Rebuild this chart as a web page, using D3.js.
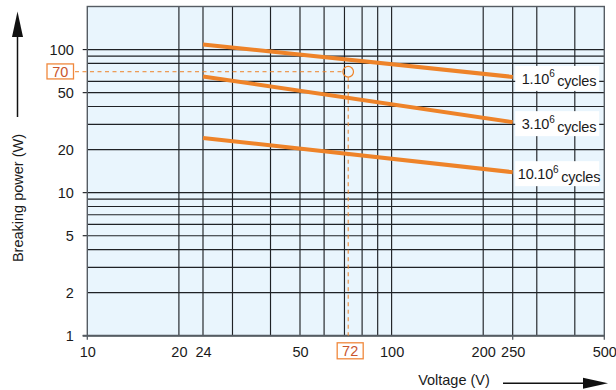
<!DOCTYPE html>
<html><head><meta charset="utf-8">
<script src="https://cdn.jsdelivr.net/npm/d3@7"></script>
<style>
html,body{margin:0;padding:0;background:#fff;}
svg{display:block;font-family:"Liberation Sans",Arial,Helvetica,sans-serif;}
</style></head>
<body><svg id="c" width="616" height="390"></svg>
<script>
// ---- data ----
const voltage = [24, 250];
const cycles1e6 = [108.5, 64.4];
const cycles3e6 = [64.9, 31.1];
const cycles10e6 = [24.1, 13.9];
const seriesNames = ["1.10", "3.10", "10.10"];
const xTickLabels = [10, 20, 24, 50, 100, 200, 250, 500];
const yTickLabels = [1, 2, 5, 10, 20, 50, 100];
const xGridValues = [20, 24, 30, 40, 50, 60, 70, 80, 90, 100, 200, 250, 300, 400];
const yGridValues = [2, 3, 4, 5, 6, 7, 8, 9, 10, 20, 30, 40, 50, 60, 80, 90, 100];
const yTickMarks = [1, 5, 10, 50, 100];
const xTickMarks = [10, 250, 500];
const markVoltage = 72;
const markPower = 70;

// ---- layout ----
const W = 616, H = 390;
const m = {left: 87.3, right: 11.7, top: 6.5, bottom: 54.3};
const svg = d3.select("#c");
const x = d3.scaleLog().domain([10, 500]).range([m.left, W - m.right]);
const y = d3.scaleLog().domain([1, 200]).range([H - m.bottom, m.top]);
const orange = "#ee8329";
const boxOrange = "#f0883c";
const textOrange = "#c8552c";
const gridCol = "#1f2226";
const frameCol = "#555c63";

// background
svg.append("rect").attr("x", x(10)).attr("y", y(200))
  .attr("width", x(500) - x(10)).attr("height", y(1) - y(200))
  .attr("fill", "#e9f5fd");

// grid
svg.append("g").selectAll("line").data(xGridValues).join("line")
  .attr("x1", d => x(d)).attr("x2", d => x(d))
  .attr("y1", y(200)).attr("y2", y(1))
  .attr("stroke", gridCol).attr("stroke-width", 1.15);
svg.append("g").selectAll("line").data(yGridValues).join("line")
  .attr("x1", x(10)).attr("x2", x(500))
  .attr("y1", d => y(d)).attr("y2", d => y(d))
  .attr("stroke", gridCol).attr("stroke-width", 1.15);

// tick extensions
svg.append("g").selectAll("line").data(yTickMarks).join("line")
  .attr("x1", x(10) - 4.6).attr("x2", x(10))
  .attr("y1", d => y(d)).attr("y2", d => y(d))
  .attr("stroke", gridCol).attr("stroke-width", 1.15);
svg.append("g").selectAll("line").data(xTickMarks).join("line")
  .attr("x1", d => x(d)).attr("x2", d => x(d))
  .attr("y1", y(1)).attr("y2", y(1) + 4)
  .attr("stroke", frameCol).attr("stroke-width", 1.3);

// frame
svg.append("rect").attr("x", x(10)).attr("y", y(200))
  .attr("width", x(500) - x(10)).attr("height", y(1) - y(200))
  .attr("fill", "none").attr("stroke", frameCol).attr("stroke-width", 1.4);
svg.append("line").attr("x1", x(10) - 4.6).attr("x2", x(500))
  .attr("y1", y(1)).attr("y2", y(1)).attr("stroke", frameCol).attr("stroke-width", 2);

// series lines
const line = d3.line().x(d => x(d[0])).y(d => y(d[1]));
const seriesVals = [cycles1e6, cycles3e6, cycles10e6];
seriesVals.forEach(vals => {
  svg.append("path").datum(voltage.map((v, i) => [v, vals[i]]))
    .attr("d", line).attr("fill", "none")
    .attr("stroke", orange).attr("stroke-width", 4);
});

// series labels
seriesVals.forEach((vals, i) => {
  const cy = y(vals[vals.length - 1]) + 1.5;
  svg.append("rect").attr("x", x(250) + 2.5).attr("y", cy - 12.5)
    .attr("width", 84).attr("height", 25).attr("fill", "#fff");
  const t = svg.append("text").attr("x", 559).attr("y", cy)
    .attr("dy", "0.36em").attr("text-anchor", "middle")
    .attr("font-size", 14.5).attr("fill", "#1a1a1a").attr("letter-spacing", -0.2);
  t.append("tspan").text(seriesNames[i]);
  t.append("tspan").attr("font-size", 10).attr("dy", "-0.62em").text("6");
  t.append("tspan").attr("dy", "0.62em").text("\u2009cycles");
});

// axes labels
const yAxis = d3.axisLeft(y).tickValues(yTickLabels).tickFormat(d3.format("d"))
  .tickSize(0).tickPadding(13.5);
const gy = svg.append("g").attr("transform", `translate(${x(10)},0)`).call(yAxis);
gy.select(".domain").remove();
gy.selectAll("text").attr("font-size", 14.5).attr("fill", "#1a1a1a")
  .attr("font-family", "Liberation Sans, Arial, sans-serif");

const xAxis = d3.axisBottom(x).tickValues(xTickLabels).tickFormat(d3.format("d"))
  .tickSize(0).tickPadding(11);
const gx = svg.append("g").attr("transform", `translate(0,${y(1)})`).call(xAxis);
gx.select(".domain").remove();
gx.selectAll("text").attr("font-size", 14.5).attr("fill", "#1a1a1a")
  .attr("font-family", "Liberation Sans, Arial, sans-serif");

// marker
const dash = "4,3.5";
svg.append("line").attr("x1", 75).attr("x2", x(markVoltage) - 5.5)
  .attr("y1", y(markPower)).attr("y2", y(markPower))
  .attr("stroke", orange).attr("stroke-width", 1).attr("stroke-dasharray", dash);
svg.append("line").attr("x1", x(markVoltage)).attr("x2", x(markVoltage))
  .attr("y1", y(markPower) + 5.5).attr("y2", y(1))
  .attr("stroke", orange).attr("stroke-width", 1).attr("stroke-dasharray", dash);
svg.append("circle").attr("cx", x(markVoltage)).attr("cy", y(markPower)).attr("r", 5.3)
  .attr("fill", "none").attr("stroke", orange).attr("stroke-width", 1.2);

// boxed labels
svg.append("rect").attr("x", 47).attr("y", y(markPower) - 7.8).attr("width", 26.5).attr("height", 15)
  .attr("fill", "#fff").attr("stroke", boxOrange).attr("stroke-width", 1.3);
svg.append("text").attr("x", 60.2).attr("y", y(markPower)).attr("dy", "0.36em")
  .attr("text-anchor", "middle").attr("font-size", 14.5).attr("fill", textOrange).text(markPower);
svg.append("rect").attr("x", x(markVoltage) - 11).attr("y", 342.8).attr("width", 26).attr("height", 16)
  .attr("fill", "#fff").attr("stroke", boxOrange).attr("stroke-width", 1.3);
svg.append("text").attr("x", x(markVoltage) + 2).attr("y", 351).attr("dy", "0.36em")
  .attr("text-anchor", "middle").attr("font-size", 14.5).attr("fill", textOrange).text(markVoltage);

// axis titles
svg.append("text").attr("transform", "translate(23,198) rotate(-90)")
  .attr("text-anchor", "middle").attr("font-size", 14.5).attr("fill", "#1a1a1a")
  .text("Breaking power (W)");
svg.append("line").attr("x1", 17.5).attr("x2", 17.5).attr("y1", 117).attr("y2", 34)
  .attr("stroke", "#111").attr("stroke-width", 1.5);
svg.append("path").attr("d", "M17.5,11.5 L12,37 L23,37 Z").attr("fill", "#111");

svg.append("text").attr("x", 454).attr("y", 380).attr("dy", "0.35em")
  .attr("text-anchor", "middle").attr("font-size", 14.5).attr("fill", "#1a1a1a")
  .text("Voltage (V)");
svg.append("line").attr("x1", 503).attr("x2", 586).attr("y1", 383.3).attr("y2", 383.3)
  .attr("stroke", "#111").attr("stroke-width", 1.5);
svg.append("path").attr("d", "M608,383.3 L583,377.8 L583,388.8 Z").attr("fill", "#111");
</script></body></html>
